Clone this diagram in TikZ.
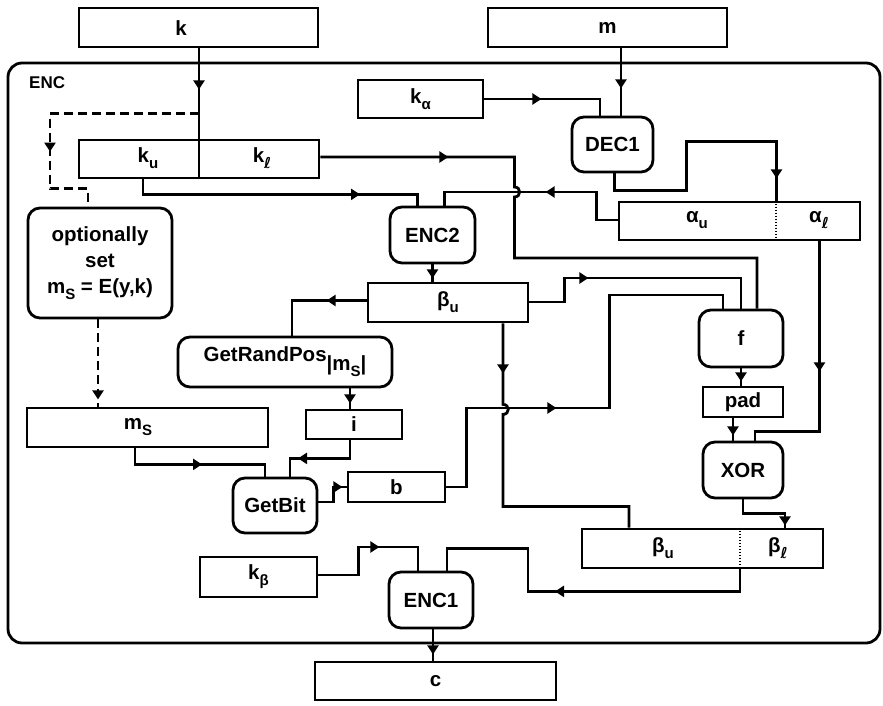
\documentclass[tikz,border=0pt]{standalone}
\usepackage{fontspec}
\setmainfont{Liberation Sans}
\newfontfamily\dvfont{DejaVu Sans}
\usetikzlibrary{arrows.meta,decorations.markings}

% lowered subscript used in the labels
\newcommand\lowsub[1]{\raisebox{-6pt}{\fontsize{15}{15}\selectfont #1}}
\newcommand\ellsym{{\dvfont\bfseries ℓ}}

\tikzset{
  every node/.style={font=\fontsize{20.5}{26}\selectfont\bfseries, inner sep=0pt},
  sz/.style 2 args={minimum width=#1pt, minimum height=#2pt},
  dbox/.style={draw, line width=2.8pt, rectangle},
  pbox/.style={draw, line width=2.8pt, rectangle, rounded corners=12pt},
  conn/.style={line width=2.8pt},
  dashconn/.style={conn, dash pattern=on 9pt off 5pt},
  dotdiv/.style={line width=2pt, dash pattern=on 1.5pt off 1.5pt},
  arrowat/.style={postaction={decorate},
    decoration={markings, mark=at position #1pt with {\arrow{Triangle[length=9pt,width=11pt]}}}},
}

\begin{document}
\begin{tikzpicture}[x=1pt, y=-1pt]
\useasboundingbox (0,0) rectangle (883,706);

% enclosing block
\node[pbox, sz={872}{580}, rounded corners=14pt] (enc) at (444,353) {};
\node[anchor=west, font=\fontsize{17}{17}\selectfont\bfseries] (enclabel) at (29,83) {ENC};

% inputs and output
\node[dbox, sz={239}{39}] (k) at (198.5,27.5) {};
\node (kt) at (181,28) {k};
\node[dbox, sz={239}{39}] (m) at (607.5,27.5) {m};
\node[dbox, sz={241}{38}] (c) at (435.5,681) {c};

% key material
\node[dbox, sz={125}{38}] (ka) at (420.5,99) {k\lowsub{α}};
\node[dbox, sz={240}{38}] (kb) at (199,159) {};
\node (kut) at (148,158) {k\lowsub{u}};
\node (klt) at (262,158) {k\lowsub{\ellsym}};
\node[dbox, sz={117}{40}] (kbeta) at (258.5,577) {k\lowsub{β}};

% processing blocks
\node[pbox, sz={144}{110}, align=center] (opt) at (100,263) {optionally\\set\\m\lowsub{S} = E(y,k)};
\node[pbox, sz={85}{56}] (e2) at (432.5,235) {ENC2};
\node[pbox, sz={81}{55}] (d1) at (612.5,144.5) {DEC1};
\node[pbox, sz={84}{57}] (f) at (741,338.5) {f};
\node[pbox, sz={80}{56}] (xor) at (743,470) {XOR};
\node[pbox, sz={214}{50}] (grp) at (285,362) {GetRandPos\raisebox{-9pt}{|m\lowsub{S}|}};
\node[pbox, sz={84}{55}] (gb) at (275,505.5) {GetBit};
\node[pbox, sz={84}{56}] (e1) at (431,600) {ENC1};

% registers
\node[dbox, sz={241}{38}] (ab) at (739.5,221) {};
\node (aut) at (697,220) {α\lowsub{u}};
\node (alt) at (819,220) {α\lowsub{\ellsym}};
\node[dbox, sz={160}{39}] (bu) at (448,302.5) {β\lowsub{u}};
\node[dbox, sz={80}{30}] (pad) at (743,402) {pad};
\node[dbox, sz={241}{39}] (bb) at (702.5,548.5) {};
\node (bbut) at (663,548) {β\lowsub{u}};
\node (bblt) at (778,548) {β\lowsub{\ellsym}};
\node[dbox, sz={241}{39}] (ms) at (147.5,427.5) {};
\node (mst) at (138,427) {m\lowsub{S}};
\node[dbox, sz={96}{29}] (i) at (354,424.5) {i};
\node[dbox, sz={97}{30}] (b) at (396.5,487) {b};

% field dividers
\draw[conn] (kb.north) -- (kb.south);
\draw[dotdiv] ([xshift=36pt]ab.north) -- ([xshift=36pt]ab.south);
\draw[dotdiv] ([xshift=37.5pt]bb.north) -- ([xshift=37.5pt]bb.south);

% connectors
\draw[conn, arrowat=41] (k.south -| kb.north) -- (kb.north);
\draw[dashconn, arrowat=187] ([yshift=25pt]kb.north) -- ++(-149,0) -- ++(0,75) -| ([xshift=-12pt]opt.north);
\draw[dashconn, arrowat=80] ([xshift=-2pt]opt.south) -- ++(0,90);
\draw[conn, arrowat=40] ([xshift=13.5pt]m.south) -- ++(0,70);
\draw[conn, arrowat=57] (ka.east) -| ([xshift=-12.5pt]d1.north);
\draw[conn, arrowat=128] ([yshift=2pt]kb.east) -- ++(194,0) -- ++(0,30)
  .. controls +(7,0) and +(7,0) .. ++(0,10) -- ++(0,61) -| ([xshift=16pt]f.north);
\draw[conn, arrowat=232] ([xshift=-56pt]kb.south) -- ++(0,15) -| ([xshift=-15pt]e2.north);
\draw[conn, arrowat=100] ([yshift=1pt]ab.west) -- ++(-21,0) -- ++(0,-28) -| ([xshift=12pt]e2.north);
\draw[conn, arrowat=265] ([xshift=2pt]d1.south) -- ++(0,17) -- ++(72,0) -- ++(0,-49) -| ([xshift=37pt]ab.north);
\draw[conn, arrowat=130] ([xshift=80pt]ab.south) -- ++(0,190) -| ([xshift=12pt]xor.north);
\draw[conn, arrowat=14] (e2.south) -- (e2.south |- bu.north);
\draw[conn, arrowat=40] ([yshift=2pt]bu.west) -| ([xshift=7pt]grp.north);
\draw[conn, arrowat=15] ([xshift=65pt]grp.south) -- ++(0,23);
\draw[conn, arrowat=70] ([xshift=-4pt]i.south) -- ++(0,18) -| ([xshift=15pt]gb.north);
\draw[conn, arrowat=83] ([xshift=-12.5pt]ms.south) -- ++(0,16) -| ([xshift=-10pt]gb.north);
\draw[conn, arrowat=39] ([yshift=3.5pt]gb.east) -- ++(15,0) |- (b.west);
\draw[conn, arrowat=189] (b.east) -- ++(20,0) -- ++(0,-79) -- ++(143,0) -- ++(0,-113) -| ([xshift=-18pt]f.north);
\draw[conn, arrowat=50] ([xshift=55pt]bu.south) -- ++(0,81)
  .. controls +(7,0) and +(7,0) .. ++(0,10) -- ++(0,92) -| ([xshift=-73.5pt]bb.north);
\draw[conn, arrowat=83] ([yshift=0.5pt]bu.east) -- ++(35,0) -- ++(0,-24) -| (f.north);
\draw[conn, arrowat=13] (f.south) -- (f.south |- pad.north);
\draw[conn, arrowat=17] ([xshift=-10pt]pad.south) -- ++(0,25);
\draw[conn, arrowat=68] (xor.south) -- ++(0,14) -| ([xshift=82.5pt]bb.north);
\draw[conn, arrowat=207] ([xshift=37.5pt]bb.south) -- ++(0,22) -- ++(-212,0) -- ++(0,-43) -| ([xshift=16pt]e1.north);
\draw[conn, arrowat=89] ([yshift=2pt]kbeta.east) -- ++(40,0) -- ++(0,-28) -| ([xshift=-13pt]e1.north);
\draw[conn, arrowat=25] ([xshift=2pt]e1.south) -- ++(0,34);
\end{tikzpicture}
\end{document}
